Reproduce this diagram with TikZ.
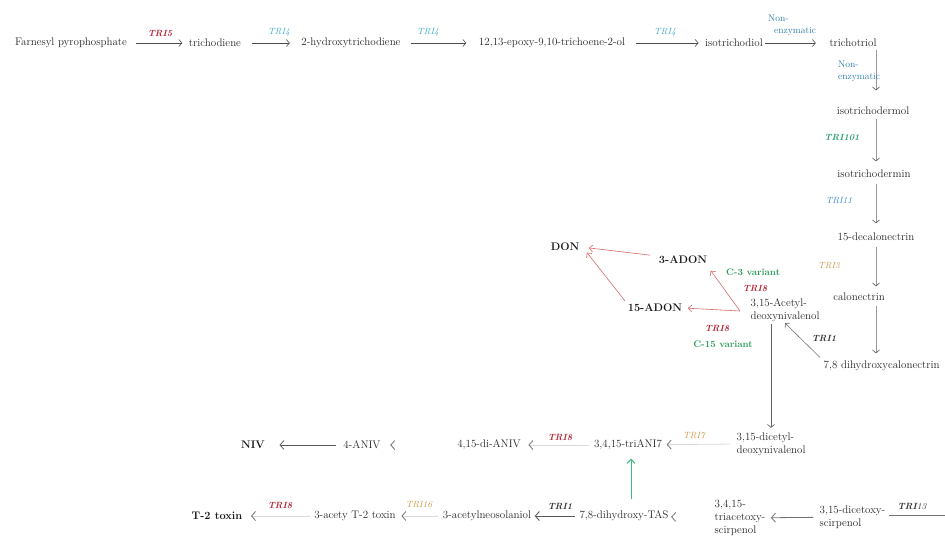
\documentclass[tikz,border=0pt]{standalone}
\usetikzlibrary{arrows.meta}
\definecolor{cred}{HTML}{B3283A}
\definecolor{ccyan}{HTML}{3AA8C8}
\definecolor{cteal}{HTML}{2E7FA8}
\definecolor{cgreen}{HTML}{2E9E6E}
\definecolor{cblue}{HTML}{3A86CC}
\definecolor{ctan}{HTML}{C99540}
\definecolor{cvar}{HTML}{2E9A5E}
\definecolor{credarr}{HTML}{D46A6A}
\definecolor{cgreenarr}{HTML}{3DBB7E}
\begin{document}
\begin{tikzpicture}[x=1pt,y=-1pt,
  txt/.style={inner sep=1.5pt, text=black!85, font=\fontsize{11}{13}\selectfont},
  bld/.style={inner sep=1.5pt, text=black!90, font=\fontsize{11}{13}\selectfont\bfseries},
  gene/.style={inner sep=1pt, font=\fontsize{9}{10}\selectfont\itshape},
  bgene/.style={inner sep=1pt, font=\fontsize{9}{10}\selectfont\bfseries\itshape},
  ntxt/.style={inner sep=1pt, text=cteal, align=left, font=\fontsize{9.5}{12.5}\selectfont},
  vtxt/.style={inner sep=1pt, text=cvar, font=\fontsize{9.5}{11}\selectfont\bfseries},
  arr/.style={draw=black!70, line width=0.6pt, -{Straight Barb[length=3pt,width=7pt]}},
  varr/.style={draw=black!40, line width=0.7pt, -{Straight Barb[length=3pt,width=7pt,color=black!60]}},
  larr/.style={draw=black!15, line width=0.8pt, -{Straight Barb[length=4pt,width=9pt,color=black!55]}},
  darr/.style={draw=black!65, line width=0.9pt, -{Straight Barb[length=4pt,width=9pt]}},
  redarr/.style={draw=credarr, line width=0.6pt, -{Straight Barb[length=3.5pt,width=7pt]}},
  grarr/.style={draw=cgreenarr, line width=1pt, -{Straight Barb[length=4pt,width=8pt]}}
]
\useasboundingbox (0,0) rectangle (945,536);
\coordinate (vx) at (876,0);
\coordinate (vx2) at (771,0);
\coordinate (gx) at (631,0);

% top row
\node[txt] (fpp) at (71,43) {Farnesyl pyrophosphate};
\node[txt] (tcd) at (215,43) {trichodiene};
\node[txt] (hyd) at (351,43) {2-hydroxytrichodiene};
\node[txt] (epo) at (552,43) {12,13-epoxy-9,10-trichoene-2-ol};
\node[txt] (itd) at (734,43) {isotrichodiol};
\node[txt] (ttr) at (853,43) {trichotriol};

\draw[arr, shorten <=7pt, shorten >=5pt] (fpp) -- (tcd);
\draw[arr, shorten <=9pt, shorten >=10pt] (tcd) -- (hyd);
\draw[arr, shorten <=9pt, shorten >=11pt] (hyd) -- (epo);
\draw[arr, shorten <=9pt, shorten >=5pt] (epo) -- (itd);
\draw[arr, shorten <=1pt, shorten >=12pt] (itd) -- (ttr);

\node[bgene, text=cred] (g1) at (160,33) {TRI5};
\node[gene, text=ccyan] (g2) at (279,32) {TRI4};
\node[gene, text=ccyan] (g3) at (428,32) {TRI4};
\node[gene, text=ccyan] (g4) at (665,32) {TRI4};
\node[ntxt, anchor=west] (ne1) at (767,25) {Non-\\\hspace*{6pt}enzymatic};

% right column
\node[txt] (itdl) at (873,111) {isotrichodermol};
\node[txt] (itdn) at (874,174) {isotrichodermin};
\node[txt] (dec) at (876,237) {15-decalonectrin};
\node[txt] (cal) at (859,297) {calonectrin};
\node[txt, anchor=west] (dhc) at (822,366) {7,8 dihydroxycalonectrin};

\draw[varr, shorten <=1pt, shorten >=15pt] (ttr.south -| vx) -- (itdl.north -| vx);
\draw[varr, shorten <=2pt, shorten >=7pt] (itdl.south -| vx) -- (itdn.north -| vx);
\draw[varr, shorten <=4pt, shorten >=8pt] (itdn.south -| vx) -- (dec.north -| vx);
\draw[varr, shorten <=4pt, shorten >=5pt] (dec.south -| vx) -- (cal.north -| vx);
\draw[varr, shorten <=3pt, shorten >=6pt] (cal.south -| vx) -- (dhc.north -| vx);

\node[ntxt, anchor=west] (ne2) at (837,71) {Non-\\enzymatic};
\node[bgene, text=cgreen] (g5) at (842,137) {TRI101};
\node[gene, text=cblue] (g6) at (839,201) {TRI11};
\node[gene, text=ctan] (g7) at (829,266) {TRI3};
\node[bgene, text=black!80] (g8) at (824,338) {TRI1};

% DON branch
\node[txt, anchor=west, align=left] (acd) at (749,310) {3,15-Acetyl-\\deoxynivalenol};
\draw[varr, draw=black!55, line width=0.6pt, shorten <=3pt] (dhc.north west) -- (acd.south);

\node[bld] (don) at (565,247) {DON};
\node[bld] (ad3) at (683,260) {3-ADON};
\node[bld] (ad15) at (655,308) {15-ADON};
\coordinate (rsrc) at (740,311);
\draw[redarr] (rsrc) -- ([xshift=2pt,yshift=-5pt]ad3.south east);
\draw[redarr, shorten >=4pt] (rsrc) -- (ad15.east);
\draw[redarr, shorten <=7pt, shorten >=8pt] ([yshift=4pt]ad3.west) -- (don.east);
\draw[redarr, shorten <=2pt] (ad15.north west) -- ([xshift=6pt]don.south east);

\node[vtxt] (v3) at (753,272) {C-3 variant};
\node[bgene, text=cred] (g9) at (755,288) {TRI8};
\node[bgene, text=cred] (g10) at (717,328) {TRI8};
\node[vtxt] (v15) at (723,344) {C-15 variant};

% row 1 bottom
\node[txt, anchor=west, align=left] (dcd) at (735,444) {3,15-dicetyl-\\deoxynivalenol};
\draw[varr, draw=black!60, line width=0.7pt, shorten <=1pt, shorten >=3pt] (acd.south -| vx2) -- (dcd.north -| vx2);

\node[bld] (niv) at (253,445) {NIV};
\node[txt] (aniv) at (362,445) {4-ANIV};
\node[txt] (daniv) at (489,445) {4,15-di-ANIV};
\node[txt] (taniv) at (628,445) {3,4,15-triANI7};

\draw[darr, line width=0.7pt, shorten <=6pt, shorten >=13pt] (aniv) -- (niv);
\draw[larr, draw=white, shorten >=8pt] (daniv) -- (aniv);
\draw[larr, shorten <=3pt, shorten >=6pt] (taniv) -- (daniv);
\draw[larr, shorten <=5pt, shorten >=3pt] (dcd.west) -- (taniv);
\node[bgene, text=cred] (g11) at (560,437) {TRI8};
\node[gene, text=ctan] (g12) at (694,436) {TRI7};

% row 2 bottom
\node[bld] (t2) at (217,516) {T-2 toxin};
\node[txt] (at2) at (355,516) {3-acety T-2 toxin};
\node[txt] (neo) at (487,516) {3-acetylneosolaniol};
\node[txt] (tas) at (624,516) {7,8-dihydroxy-TAS};
\node[txt, anchor=west, align=left] (tri) at (713,518) {3,4,15-\\triacetoxy-\\scirpenol};
\node[txt, anchor=west, align=left] (dcs) at (818,517) {3,15-dicetoxy-\\scirpenol};
\coordinate (offr) at (945,515);

\draw[larr, shorten <=3pt, shorten >=7pt] (at2) -- (t2);
\draw[larr, shorten <=3pt, shorten >=4pt] (neo) -- (at2);
\draw[darr, shorten <=3pt, shorten >=2pt] (tas) -- (neo);
\draw[larr, draw=white, shorten >=1pt] (tri) -- (tas);
\draw[darr, draw=black!55, line width=0.8pt, shorten <=5pt, shorten >=4pt] (dcs) -- (tri);
\draw[black!55, line width=0.8pt, shorten <=2pt] (dcs.east |- offr) -- (offr);
\draw[grarr, shorten <=10pt, shorten >=7pt] (tas.north -| gx) -- (taniv.south -| gx);

\node[bgene, text=cred] (g13) at (280,505) {TRI8};
\node[gene, text=ctan] (g14) at (419,505) {TRI16};
\node[bgene, text=black!80] (g15) at (560,506) {TRI1};
\node[gene, text=black!80] (g16) at (912,507) {\textbf{TRI}13};
\end{tikzpicture}
\end{document}
